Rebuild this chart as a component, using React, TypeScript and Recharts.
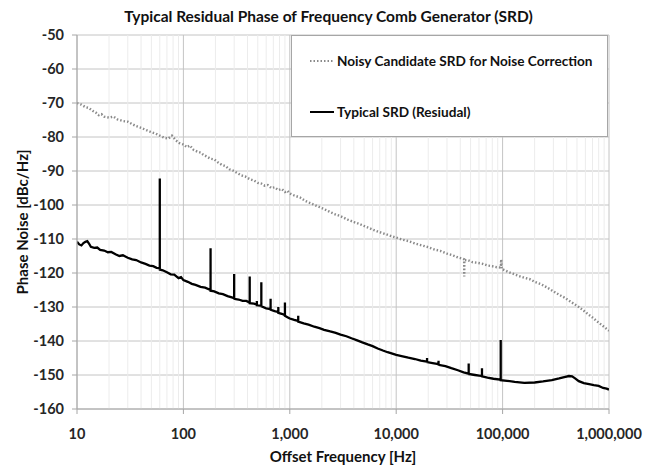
import React from 'react';
import {
  LineChart,
  Line,
  XAxis,
  YAxis,
  CartesianGrid,
  Legend,
  ReferenceLine,
} from 'recharts';

const FONT = 'Lato, "Open Sans", sans-serif';

// x ticks (decades) and y ticks
const X_TICKS = [10, 100, 1000, 10000, 100000, 1000000];
const Y_TICKS = [-160, -150, -140, -130, -120, -110, -100, -90, -80, -70, -60, -50];
// minor log gridlines 2..9 within each decade
const DECADES = [10, 100, 1000, 10000, 100000];
const MINOR_STEPS = [2, 3, 4, 5, 6, 7, 8, 9];

// [offset frequency Hz, dBc/Hz]
const NOISY: [number, number][] = [
  [10, -70], [11, -70.5], [12, -71.2], [13, -71.5], [14, -72.3], [15, -72.8],
  [16, -73.6], [17, -73.3], [18, -74], [20, -74.3], [22, -74], [24, -74.8],
  [27, -75.3], [30, -75.5], [33, -76.2], [36, -76.8], [40, -77.3], [45, -78],
  [50, -78.6], [55, -79], [60, -79.6], [66, -80.2], [72, -80.5], [78, -79.6],
  [85, -81], [92, -81.8], [100, -82.2], [108, -83], [115, -82.5], [125, -83.8],
  [135, -84.3], [145, -84.6], [155, -85.3], [165, -85.7], [180, -86.4], [195, -86.6],
  [210, -87.4], [230, -88.2], [250, -88.6], [270, -89.5], [290, -89.8], [320, -90.6],
  [350, -91.3], [380, -91.6], [420, -92.4], [460, -92.8], [500, -93.5], [540, -93.7],
  [580, -94.3], [620, -94.1], [670, -95], [720, -94.8], [780, -95.6], [840, -95.3],
  [900, -96.2], [950, -95.8], [1000, -96.6], [1100, -97.2], [1250, -97.8], [1400, -98.8],
  [1600, -99.6], [1800, -100.3], [2000, -100.9], [2300, -101.8], [2600, -102.6], [3000, -103.3],
  [3500, -104.3], [4000, -105], [4600, -105.7], [5200, -106.4], [6000, -107.2], [7000, -108],
  [8000, -108.6], [9000, -109.2], [10000, -109.6], [11500, -110.2], [13000, -110.6], [15000, -111.3],
  [17000, -111.8], [20000, -112.4], [23000, -113.1], [26000, -113.5], [30000, -114.3], [34000, -114.8],
  [38000, -115.4], [42000, -115.8], [43500, -116], [43600, -121], [43700, -116.2], [47000, -116.2],
  [52000, -116.8], [58000, -117], [65000, -117.3], [72000, -117.8], [80000, -118], [88000, -118.3],
  [96000, -118.4], [97000, -116], [98000, -118.8], [105000, -119.2], [115000, -119.8], [125000, -120.2],
  [140000, -120.8], [160000, -121.4], [180000, -121.8], [200000, -122.6], [230000, -123.3], [260000, -124.2],
  [300000, -125.4], [340000, -126.4], [380000, -127.2], [420000, -128.1], [470000, -129.1], [520000, -130],
  [580000, -131.1], [640000, -132.2], [700000, -133.1], [770000, -134.2], [840000, -135.1], [920000, -136.1],
  [1000000, -137],
];

// spurs are base / top / base at the same frequency
const TYPICAL: [number, number][] = [
  [10, -110.8], [10.5, -111.6], [11, -111.9], [11.5, -111.2], [12, -110.8], [12.5, -110.6],
  [13, -111.4], [13.5, -112.3], [14.5, -112.6], [15.5, -112.5], [16.5, -113.2], [18, -113.4],
  [19.5, -113.9], [21, -113.8], [23, -114.5], [25, -115], [27, -114.8], [30, -115.5],
  [33, -116], [36, -116.2], [40, -116.9], [44, -117.3], [48, -117.8], [52, -118],
  [56, -118.5], [60, -118.6], [60, -92.2], [60, -119], [64, -119.2], [70, -119.8],
  [76, -120.4], [82, -120.5], [90, -121.5], [95, -121.2], [100, -122.1], [110, -122.6],
  [120, -123.2], [130, -123.5], [145, -124.1], [160, -124.3], [180, -125], [180, -112.7],
  [180, -125.2], [195, -125.4], [215, -126], [235, -126.2], [260, -126.8], [280, -127.1],
  [300, -127.4], [300, -120.3], [300, -127.6], [330, -127.8], [360, -128.2], [390, -128.2],
  [420, -128.7], [420, -121], [420, -128.9], [460, -129], [490, -129.3], [490, -128.2],
  [490, -129.5], [540, -129.6], [540, -122.7], [540, -129.8], [600, -130.4], [660, -130.6],
  [660, -127.6], [660, -130.8], [720, -131.2], [780, -131.5], [780, -130], [780, -131.7],
  [840, -132], [900, -132.4], [900, -128.7], [900, -132.6], [950, -133], [1000, -133.4],
  [1100, -133.8], [1200, -134.1], [1200, -132.6], [1200, -134.3], [1350, -134.8], [1500, -135.2],
  [1700, -135.8], [1900, -136.2], [2100, -136.7], [2400, -137.2], [2700, -137.6], [3000, -138.1],
  [3400, -138.6], [3800, -139.2], [4300, -139.8], [4800, -140.4], [5400, -141], [6000, -141.5],
  [6700, -142.2], [7500, -142.8], [8300, -143.3], [9200, -143.7], [10000, -144.1], [11500, -144.5],
  [13000, -144.9], [15000, -145.3], [17000, -145.8], [19500, -146.1], [19500, -145], [19500, -146.2],
  [22000, -146.5], [25000, -146.8], [25000, -145.8], [25000, -147], [29000, -147.4], [33000, -148],
  [38000, -148.6], [43000, -149.2], [48000, -149.6], [48000, -146.6], [48000, -149.7], [55000, -150],
  [64000, -150.3], [64000, -148], [64000, -150.4], [72000, -150.8], [82000, -151.1], [96000, -151.4],
  [96000, -139.7], [96000, -151.5], [110000, -151.7], [130000, -152], [160000, -152.3], [200000, -152.2],
  [240000, -151.9], [290000, -151.5], [340000, -151], [380000, -150.6], [420000, -150.3], [450000, -150.4],
  [480000, -151], [520000, -151.8], [580000, -152.4], [650000, -152.7], [720000, -153], [800000, -153.2],
  [880000, -153.8], [950000, -154], [1000000, -154.3],
];

const noisyData = NOISY.map(([f, db]) => ({ f, db }));
const typicalData = TYPICAL.map(([f, db]) => ({ f, db }));
const minorTicks = DECADES.flatMap(d => MINOR_STEPS.map(m => d * m));

const tickStyle = { fill: '#262626', fontSize: 14.5, fontWeight: 700, fontFamily: FONT };

function LegendBox() {
  const row = { display: 'flex', alignItems: 'center', height: 20 };
  const text = { fontFamily: FONT, fontWeight: 700, fontSize: 13.6, color: '#111', marginLeft: 3 };
  return (
    <div
      style={{
        width: 317,
        height: 102,
        boxSizing: 'border-box',
        background: '#fff',
        border: '1px solid #a6a6a6',
        paddingLeft: 18,
        paddingTop: 15,
      }}
    >
      <div style={row}>
        <svg width={24} height={6}>
          <line x1={0} y1={3} x2={24} y2={3} stroke="#8a8a8a" strokeWidth={2.2} strokeDasharray="1.5 2" />
        </svg>
        <span style={text}>Noisy Candidate SRD for Noise Correction</span>
      </div>
      <div style={{ ...row, marginTop: 31 }}>
        <svg width={24} height={6}>
          <line x1={0} y1={3} x2={24} y2={3} stroke="#000" strokeWidth={2} />
        </svg>
        <span style={text}>Typical SRD (Resiudal)</span>
      </div>
    </div>
  );
}

export default function App() {
  return (
    <div style={{ position: 'absolute', left: 0, top: 0, width: 657, height: 466, background: '#fff' }}>
      <div
        style={{
          position: 'absolute',
          top: 7,
          left: 0,
          width: 657,
          textAlign: 'center',
          fontFamily: FONT,
          fontWeight: 700,
          fontSize: 15.5,
          color: '#111',
        }}
      >
        Typical Residual Phase of Frequency Comb Generator (SRD)
      </div>
      <div
        style={{
          position: 'absolute',
          left: 22,
          top: 222,
          transform: 'translate(-50%, -50%) rotate(-90deg)',
          whiteSpace: 'nowrap',
          fontFamily: FONT,
          fontWeight: 700,
          fontSize: 15,
          color: '#111',
        }}
      >
        Phase Noise [dBc/Hz]
      </div>
      <div
        style={{
          position: 'absolute',
          left: 343,
          top: 456,
          transform: 'translate(-50%, -50%)',
          whiteSpace: 'nowrap',
          fontFamily: FONT,
          fontWeight: 700,
          fontSize: 15,
          color: '#111',
        }}
      >
        Offset Frequency [Hz]
      </div>
      <LineChart
        width={657}
        height={466}
        margin={{ top: 35, right: 48, bottom: 0, left: 0 }}
        style={{ position: 'absolute', left: 0, top: 0 }}
      >
        {minorTicks.map(v => (
          <ReferenceLine key={v} x={v} stroke="#ececec" strokeWidth={1} />
        ))}
        <CartesianGrid stroke="#c4c4c4" />
        <XAxis
          dataKey="f"
          type="number"
          scale="log"
          domain={[10, 1000000]}
          ticks={X_TICKS}
          allowDataOverflow
          height={57}
          tickSize={5}
          tickMargin={15}
          stroke="#a6a6a6"
          tick={tickStyle}
          tickFormatter={(v: number) => v.toLocaleString('en-US')}
        />
        <YAxis
          type="number"
          domain={[-160, -50]}
          ticks={Y_TICKS}
          width={77}
          tickSize={5}
          tickMargin={8}
          stroke="#a6a6a6"
          tick={tickStyle}
          interval={0}
        />
        <Legend
          verticalAlign="middle"
          align="center"
          content={() => <LegendBox />}
          wrapperStyle={{ position: 'absolute', top: 35, left: 291, width: 317, height: 102 }}
        />
        <Line
          data={noisyData}
          dataKey="db"
          stroke="#8a8a8a"
          strokeWidth={2.4}
          strokeDasharray="1.5 2"
          dot={false}
          isAnimationActive={false}
        />
        <Line
          data={typicalData}
          dataKey="db"
          stroke="#000"
          strokeWidth={2.3}
          dot={false}
          isAnimationActive={false}
        />
      </LineChart>
    </div>
  );
}
